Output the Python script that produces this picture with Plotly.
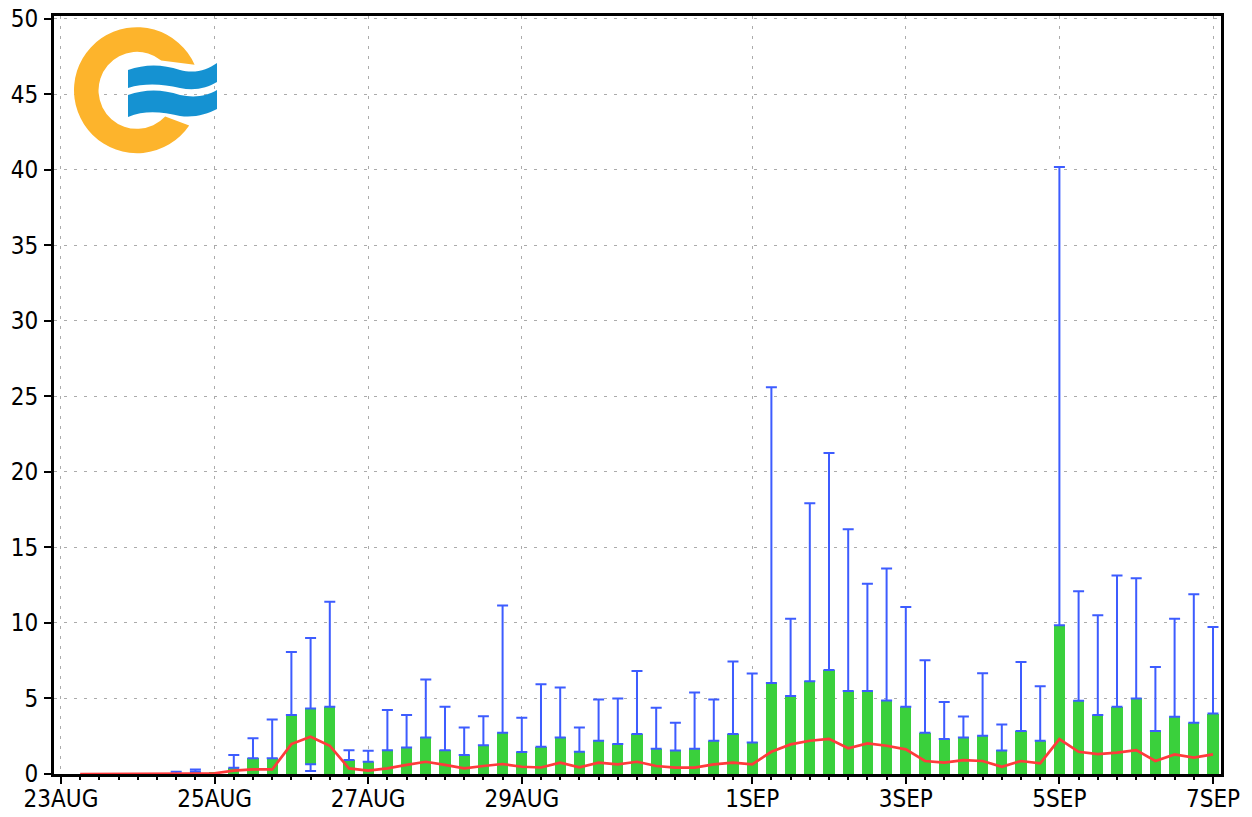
import base64
import pandas as pd
import plotly.graph_objects as go

# ---------------- data (6-hourly, 23AUG 06Z .. 7SEP 00Z) ----------------
times = pd.date_range("2024-08-23 06:00", periods=60, freq="6h")

box_top = [0, 0, 0, 0, 0, 0, 0.15, 0.1, 0.42, 1.04,
           1.04, 3.9, 4.34, 4.45, 0.92, 0.81, 1.58, 1.76, 2.42, 1.58,
           1.25, 1.9, 2.73, 1.45, 1.8, 2.42, 1.47, 2.2, 1.98, 2.64,
           1.67, 1.56, 1.67, 2.2, 2.64, 2.09, 6.03, 5.17, 6.14, 6.89,
           5.5, 5.5, 4.87, 4.45, 2.73, 2.31, 2.42, 2.53, 1.56, 2.84,
           2.2, 9.84, 4.84, 3.9, 4.45, 5.0, 2.84, 3.79, 3.39, 4.0]

box_bottom = [0] * 60
box_bottom[12] = 0.65

whisker_max = [0, 0, 0, 0, 0, 0.15, 0.3, 0.1, 1.25, 2.36,
               3.6, 8.08, 9.0, 11.4, 1.58, 1.54, 4.23, 3.9, 6.25, 4.45,
               3.08, 3.83, 11.16, 3.72, 5.94, 5.72, 3.08, 4.93, 5.0, 6.82,
               4.38, 3.39, 5.4, 4.93, 7.44, 6.65, 25.6, 10.28, 17.92, 21.25,
               16.2, 12.6, 13.6, 11.05, 7.53, 4.76, 3.81, 6.67, 3.28, 7.42,
               5.81, 40.18, 12.09, 10.5, 13.14, 12.95, 7.09, 10.28, 11.89, 9.73]

whisker_min = [0] * 60
whisker_min[12] = 0.2

mean_line = [0, 0, 0, 0, 0, 0, 0.02, 0.05, 0.22, 0.3,
             0.3, 1.98, 2.46, 1.87, 0.37, 0.22, 0.37, 0.6, 0.81, 0.6,
             0.37, 0.53, 0.66, 0.48, 0.43, 0.75, 0.44, 0.75, 0.64, 0.81,
             0.53, 0.42, 0.42, 0.64, 0.75, 0.64, 1.47, 1.96, 2.2, 2.33,
             1.7, 2.03, 1.87, 1.63, 0.86, 0.75, 0.92, 0.86, 0.48, 0.86,
             0.7, 2.31, 1.47, 1.32, 1.41, 1.58, 0.86, 1.3, 1.08, 1.3]

tick_dates = ["2024-08-23", "2024-08-25", "2024-08-27", "2024-08-29",
              "2024-09-01", "2024-09-03", "2024-09-05", "2024-09-07"]
tick_labels = ["23AUG", "25AUG", "27AUG", "29AUG",
               "1SEP", "3SEP", "5SEP", "7SEP"]
y_ticks = [0, 5, 10, 15, 20, 25, 30, 35, 40, 45, 50]

# ---------------- derived ----------------
heights = [t - b for t, b in zip(box_top, box_bottom)]
up_err = [(m - t) if m > t else None for m, t in zip(whisker_max, box_top)]
up_y = [t if e is not None else None for t, e in zip(box_top, up_err)]
lo_err = [(b - m) if b > m else None for b, m in zip(box_bottom, whisker_min)]
lo_y = [b if e is not None else None for b, e in zip(box_bottom, lo_err)]

GREEN = "#3AD03C"
BLUE = "#3D5CFF"
RED = "#FF3B3B"
FONT = "DejaVu Sans Condensed, Liberation Sans, sans-serif"
FS = 24

fig = go.Figure()
fig.add_trace(go.Bar(x=times, y=heights, base=box_bottom, width=12.4e6,
                     marker=dict(color=GREEN, line=dict(width=0)),
                     hoverinfo="skip", showlegend=False))
fig.add_trace(go.Scatter(x=times, y=up_y, mode="markers",
                         marker=dict(size=1, color="rgba(0,0,0,0)"),
                         error_y=dict(type="data", symmetric=False, array=up_err,
                                      arrayminus=[0] * 60, color=BLUE,
                                      thickness=2, width=5.5),
                         hoverinfo="skip", showlegend=False))
fig.add_trace(go.Scatter(x=times, y=lo_y, mode="markers",
                         marker=dict(size=1, color="rgba(0,0,0,0)"),
                         error_y=dict(type="data", symmetric=False, array=[0] * 60,
                                      arrayminus=lo_err, color=BLUE,
                                      thickness=2, width=5.5),
                         hoverinfo="skip", showlegend=False))
fig.add_trace(go.Scatter(x=times, y=mean_line, mode="lines",
                         line=dict(color=RED, width=2.7),
                         hoverinfo="skip", showlegend=False))

# ---------------- logo (decoration) ----------------
svg = (
    '<svg xmlns="http://www.w3.org/2000/svg" width="150" height="134" '
    'viewBox="70 24 150 134" preserveAspectRatio="none">'
    '<path fill="#FDB42C" d="M194.6,64.7 A63,63 0 1 0 189.2,125.5 '
    'L165.2,116.6 A38.5,38.5 0 1 1 161.2,60.4 Z"/>'
    '<path fill="#1592D2" d="M128,70 C145,64 162,64 180,70 C195,74 207,70 217,63 '
    'L217,82 C207,88 195,91 180,88 C162,84 145,83 128,88 Z"/>'
    '<path fill="#1592D2" d="M128,95 C145,89 162,89 180,95 C195,98 207,96 217,90 '
    'L217,109 C207,114 195,118 180,116 C162,112 145,110 128,117 Z"/>'
    '</svg>'
)
src = "data:image/svg+xml;base64," + base64.b64encode(svg.encode()).decode()

# the page body adds an 8px offset; positions below are in screen pixels
OFF = 8
PL, PR, PT, PB = 54, 1221, 16, 774          # plot area on screen
L = PL - OFF
T = PT - OFF
R = 1252 - (PR - OFF)
B = 817 - (PB - OFF)
PW = PR - PL
PH = PB - PT
fig.add_layout_image(dict(source=src, xref="paper", yref="paper",
                          x=(70 - PL) / PW, y=1 - (24 - PT) / PH,
                          sizex=150 / PW, sizey=134 / PH,
                          xanchor="left", yanchor="top",
                          sizing="stretch", layer="above"))

fig.update_layout(
    width=1252, height=817,
    margin=dict(l=L, r=R, t=T, b=B, pad=0, autoexpand=False),
    paper_bgcolor="white", plot_bgcolor="white",
    bargap=0, barmode="overlay",
    font=dict(family=FONT, size=FS, color="black"),
)
fig.update_xaxes(
    type="date", automargin=False,
    range=["2024-08-22 21:49", "2024-09-07 02:30"],
    tickvals=tick_dates, ticktext=tick_labels,
    ticks="outside", ticklen=7, tickwidth=2, tickcolor="black",
    ticklabelstandoff=-6, ticklabeloverflow="allow",
    showline=True, linewidth=3, linecolor="black", mirror=True,
    showgrid=True, gridcolor="#ababab", gridwidth=1, griddash="3px,7px",
    zeroline=False,
    minor=dict(dtick=21600000, tick0="2024-08-23", ticks="outside",
               ticklen=3, tickwidth=1.5, tickcolor="black", showgrid=False),
    tickfont=dict(family=FONT, size=FS, color="black"),
)
fig.update_yaxes(
    automargin=False,
    range=[0, 50.17],
    tickvals=y_ticks, ticktext=[str(v) for v in y_ticks],
    ticks="outside", ticklen=7, tickwidth=2, tickcolor="black",
    ticklabelstandoff=1, ticklabeloverflow="allow",
    showline=True, linewidth=3, linecolor="black", mirror=True,
    showgrid=True, gridcolor="#ababab", gridwidth=1, griddash="3px,7px",
    zeroline=False,
    tickfont=dict(family=FONT, size=FS, color="black"),
)

fig.write_html("out.html")
